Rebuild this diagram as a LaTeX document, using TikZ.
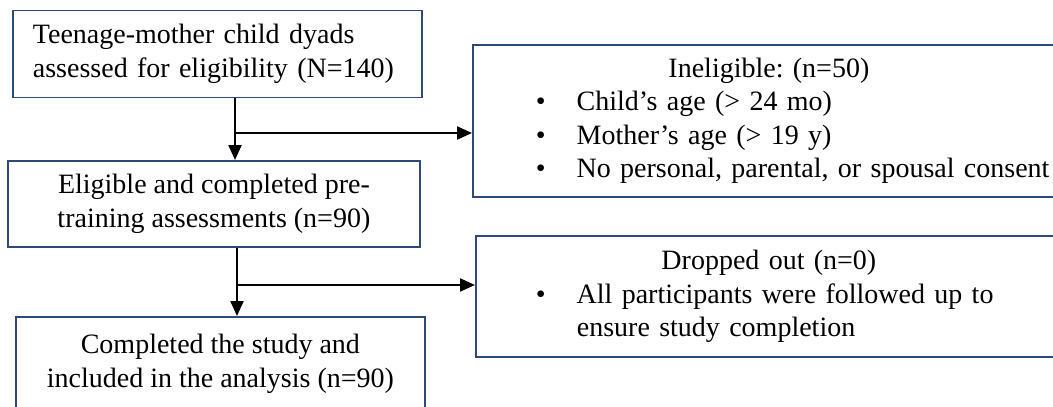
\documentclass[tikz,border=0pt]{standalone}
\usepackage{fontspec}
\setmainfont{Liberation Serif}
\usepackage{xcolor}
\usetikzlibrary{arrows.meta, positioning}
\definecolor{boxblue}{HTML}{2F4A78}
\frenchspacing

\begin{document}
\begin{tikzpicture}[x=1pt, y=-1pt,
    font=\fontsize{28}{33.5}\selectfont,
    flowbox/.style={draw=boxblue, line width=1.8pt, anchor=north west, inner sep=0pt},
    flowarrow/.style={-{Triangle[length=15pt, width=13pt]}, line width=2.2pt}]
    \useasboundingbox (0,0) rectangle (1053,407);

    % Main flow
    \node[flowbox, minimum width=409pt, minimum height=87pt, text width=369pt, align=left] (screen) at (12,9.5)
        {Teenage-mother child dyads\\assessed for eligibility (N=140)};
    \node[flowbox, minimum width=412pt, minimum height=86pt, align=center] (eligible) at (7,160)
        {Eligible and completed pre-\\training assessments (n=90)};
    \node[flowbox, minimum width=409pt, minimum height=94pt, align=center] (analysed) at (15,316)
        {Completed the study and\\included in the analysis (n=90)};

    % Exclusions
    \node[flowbox, minimum width=592pt, minimum height=152pt, text width=592pt, align=left] (inelig) at (472,44)
        {\makebox[592pt]{Ineligible: (n=50)}\\
         \hspace*{63pt}\textbullet\hspace{31pt}Child’s age (> 24 mo)\\
         \hspace*{63pt}\textbullet\hspace{31pt}Mother’s age (> 19 y)\\
         \hspace*{63pt}\textbullet\hspace{31pt}No personal, parental, or spousal consent};
    \node[flowbox, minimum width=586pt, minimum height=121pt, text width=586pt, align=left] (dropped) at (475,235)
        {\makebox[586pt]{Dropped out (n=0)}\\
         \hspace*{60pt}\textbullet\hspace{31pt}All participants were followed up to\\
         \hspace*{101pt}ensure study completion};

    % Arrows
    \coordinate (split1) at (235,133);
    \coordinate (split2) at (237,285);
    \draw[flowarrow] (screen.south -| split1) -- (eligible.north -| split1);
    \draw[flowarrow] (split1) -- (split1 -| inelig.west);
    \draw[flowarrow] (eligible.south -| split2) -- (analysed.north -| split2);
    \draw[flowarrow] (split2) -- (split2 -| dropped.west);

\end{tikzpicture}
\end{document}
